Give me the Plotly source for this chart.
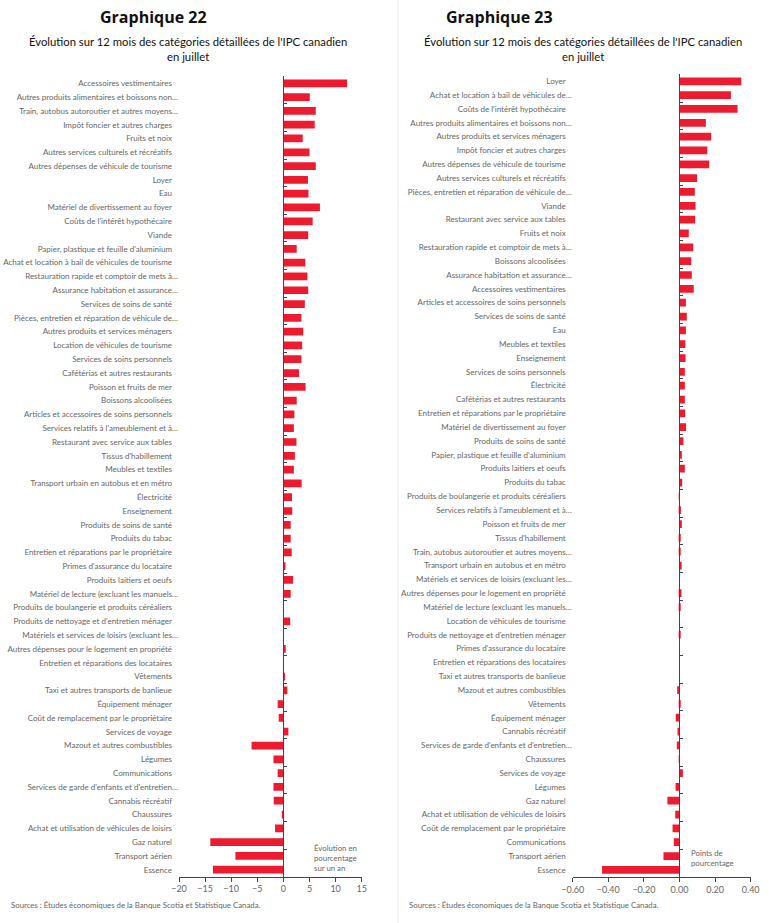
import plotly.graph_objects as go

# ---------------- Data: Graphique 22 (% y/y) ----------------
cats22 = [
    "Accessoires vestimentaires",
    "Autres produits alimentaires et boissons non…",
    "Train, autobus autoroutier et autres moyens…",
    "Impôt foncier et autres charges",
    "Fruits et noix",
    "Autres services culturels et récréatifs",
    "Autres dépenses de véhicule de tourisme",
    "Loyer",
    "Eau",
    "Matériel de divertissement au foyer",
    "Coûts de l'intérêt hypothécaire",
    "Viande",
    "Papier, plastique et feuille d'aluminium",
    "Achat et location à bail de véhicules de tourisme",
    "Restauration rapide et comptoir de mets à…",
    "Assurance habitation et assurance…",
    "Services de soins de santé",
    "Pièces, entretien et réparation de véhicule de…",
    "Autres produits et services ménagers",
    "Location de véhicules de tourisme",
    "Services de soins personnels",
    "Cafétérias et autres restaurants",
    "Poisson et fruits de mer",
    "Boissons alcoolisées",
    "Articles et accessoires de soins personnels",
    "Services relatifs à l'ameublement et à…",
    "Restaurant avec service aux tables",
    "Tissus d'habillement",
    "Meubles et textiles",
    "Transport urbain en autobus et en métro",
    "Électricité",
    "Enseignement",
    "Produits de soins de santé",
    "Produits du tabac",
    "Entretien et réparations par le propriétaire",
    "Primes d'assurance du locataire",
    "Produits laitiers et oeufs",
    "Matériel de lecture (excluant les manuels…",
    "Produits de boulangerie et produits céréaliers",
    "Produits de nettoyage et d'entretien ménager",
    "Matériels et services de loisirs (excluant les…",
    "Autres dépenses pour le logement en propriété",
    "Entretien et réparations des locataires",
    "Vêtements",
    "Taxi et autres transports de banlieue",
    "Équipement ménager",
    "Coût de remplacement par le propriétaire",
    "Services de voyage",
    "Mazout et autres combustibles",
    "Légumes",
    "Communications",
    "Services de garde d'enfants et d'entretien…",
    "Cannabis récréatif",
    "Chaussures",
    "Achat et utilisation de véhicules de loisirs",
    "Gaz naturel",
    "Transport aérien",
    "Essence",
]
vals22 = [
    12.2, 5.05, 6.2, 6.0, 3.7, 5.0, 6.2, 4.7, 4.8, 7.0,
    5.6, 4.75, 2.55, 4.2, 4.6, 4.75, 4.1, 3.45, 3.8, 3.6,
    3.45, 3.0, 4.25, 2.55, 2.1, 2.0, 2.5, 2.2, 2.0, 3.5,
    1.65, 1.7, 1.4, 1.4, 1.6, 0.4, 1.85, 1.4, 0.0, 1.3,
    0.0, 0.45, 0.0, 0.2, 0.75, -1.1, -0.9, 0.95, -6.1, -1.9,
    -1.1, -1.9, -1.85, -0.3, -1.6, -14.0, -9.2, -13.5,
]

# ---------------- Data: Graphique 23 (contribution, pp) ----------------
cats23 = [
    "Loyer",
    "Achat et location à bail de véhicules de…",
    "Coûts de l'intérêt hypothécaire",
    "Autres produits alimentaires et boissons non…",
    "Autres produits et services ménagers",
    "Impôt foncier et autres charges",
    "Autres dépenses de véhicule de tourisme",
    "Autres services culturels et récréatifs",
    "Pièces, entretien et réparation de véhicule de…",
    "Viande",
    "Restaurant avec service aux tables",
    "Fruits et noix",
    "Restauration rapide et comptoir de mets à…",
    "Boissons alcoolisées",
    "Assurance habitation et assurance…",
    "Accessoires vestimentaires",
    "Articles et accessoires de soins personnels",
    "Services de soins de santé",
    "Eau",
    "Meubles et textiles",
    "Enseignement",
    "Services de soins personnels",
    "Électricité",
    "Cafétérias et autres restaurants",
    "Entretien et réparations par le propriétaire",
    "Matériel de divertissement au foyer",
    "Produits de soins de santé",
    "Papier, plastique et feuille d'aluminium",
    "Produits laitiers et oeufs",
    "Produits du tabac",
    "Produits de boulangerie et produits céréaliers",
    "Services relatifs à l'ameublement et à…",
    "Poisson et fruits de mer",
    "Tissus d'habillement",
    "Train, autobus autoroutier et autres moyens…",
    "Transport urbain en autobus et en métro",
    "Matériels et services de loisirs (excluant les…",
    "Autres dépenses pour le logement en propriété",
    "Matériel de lecture (excluant les manuels…",
    "Location de véhicules de tourisme",
    "Produits de nettoyage et d'entretien ménager",
    "Primes d'assurance du locataire",
    "Entretien et réparations des locataires",
    "Taxi et autres transports de banlieue",
    "Mazout et autres combustibles",
    "Vêtements",
    "Équipement ménager",
    "Cannabis récréatif",
    "Services de garde d'enfants et d'entretien…",
    "Chaussures",
    "Services de voyage",
    "Légumes",
    "Gaz naturel",
    "Achat et utilisation de véhicules de loisirs",
    "Coût de remplacement par le propriétaire",
    "Communications",
    "Transport aérien",
    "Essence",
]
vals23 = [
    0.347, 0.289, 0.326, 0.148, 0.178, 0.156, 0.167, 0.099, 0.086, 0.090,
    0.088, 0.052, 0.077, 0.066, 0.069, 0.080, 0.036, 0.041, 0.036, 0.033,
    0.034, 0.030, 0.030, 0.030, 0.032, 0.037, 0.022, 0.013, 0.030, 0.015,
    0.001, 0.008, 0.013, 0.007, 0.006, 0.012, 0.0, 0.011, 0.003, 0.0,
    0.004, 0.0, 0.0, 0.0, -0.013, 0.006, -0.021, -0.011, -0.015, -0.001,
    0.019, -0.022, -0.068, -0.024, -0.039, -0.032, -0.090, -0.435,
]

x22_ticks = [-20, -15, -10, -5, 0, 5, 10, 15]
x23_ticks = [-0.60, -0.40, -0.20, 0.00, 0.20, 0.40]

RED = "#ED1B2F"
GREY = "#666666"
AXIS = "#444444"
FONT = "Lato"

W, H = 769, 923

def px_x(p):
    return p / W

def px_y(p):
    return 1 - p / H

def display(c):
    # labels that were not truncated keep a trailing gap as in the original
    return c if c.endswith("…") else c + "\u2003"

fig = go.Figure()

fig.add_trace(go.Bar(x=vals22, y=cats22, orientation="h", marker_color=RED,
                     width=0.56, xaxis="x", yaxis="y", showlegend=False, hoverinfo="x+y"))
fig.add_trace(go.Bar(x=vals23, y=cats23, orientation="h", marker_color=RED,
                     width=0.56, xaxis="x2", yaxis="y2", showlegend=False, hoverinfo="x+y"))
fig.add_trace(go.Scatter(x=[0] * len(cats22), y=cats22, mode="markers", marker=dict(opacity=0),
                         xaxis="x", yaxis="y3", showlegend=False, hoverinfo="skip"))
fig.add_trace(go.Scatter(x=[0] * len(cats23), y=cats23, mode="markers", marker=dict(opacity=0),
                         xaxis="x2", yaxis="y4", showlegend=False, hoverinfo="skip"))

n22, n23 = len(cats22), len(cats23)
ydom22 = [px_y(876.6), px_y(76.4)]
ydom23 = [px_y(876.8), px_y(74.4)]

tickfont = dict(family=FONT, size=8.0, color=GREY)
xtickfont = dict(family=FONT, size=9, color=GREY)

common_zero = dict(showticklabels=False, showgrid=False, showline=True, linecolor=AXIS,
                   linewidth=1, ticks="inside", tickson="boundaries", ticklen=3,
                   tickcolor=AXIS, automargin=False, zeroline=False)

fig.update_layout(
    template="none",
    width=W, height=H,
    margin=dict(l=0, r=0, t=0, b=0, pad=0),
    paper_bgcolor="white", plot_bgcolor="white",
    font=dict(family=FONT, color=GREY),
    xaxis=dict(domain=[px_x(179), px_x(361.7)], range=[-20, 15], tickvals=x22_ticks,
               ticks="outside", ticklen=4, tickcolor=AXIS, showline=True, linecolor=AXIS,
               linewidth=1, showgrid=False, zeroline=False, tickfont=xtickfont, anchor="y",
               automargin=False),
    yaxis=dict(domain=ydom22, type="category", categoryorder="array", categoryarray=cats22,
               tickmode="array", tickvals=cats22, ticktext=[display(c) for c in cats22],
               range=[n22 - 0.5, -0.5], showgrid=False, showline=False, ticks="",
               tickfont=tickfont, anchor="x", ticklabelstandoff=0, automargin=False,
               zeroline=False),
    yaxis3=dict(domain=ydom22, type="category", categoryorder="array", categoryarray=cats22,
                range=[n22 - 0.5, -0.5], overlaying="y", anchor="free",
                position=px_x(283.3), **common_zero),
    xaxis2=dict(domain=[px_x(572.7), px_x(750.7)], range=[-0.6, 0.4], tickvals=x23_ticks,
                tickformat=".2f", ticks="outside", ticklen=4, tickcolor=AXIS, showline=True,
                linecolor=AXIS, linewidth=1, showgrid=False, zeroline=False,
                tickfont=xtickfont, anchor="y2", automargin=False),
    yaxis2=dict(domain=ydom23, type="category", categoryorder="array", categoryarray=cats23,
                tickmode="array", tickvals=cats23, ticktext=[display(c) for c in cats23],
                range=[n23 - 0.5, -0.5], showgrid=False, showline=False, ticks="",
                tickfont=tickfont, anchor="x2", ticklabelstandoff=0, automargin=False,
                zeroline=False),
    yaxis4=dict(domain=ydom23, type="category", categoryorder="array", categoryarray=cats23,
                range=[n23 - 0.5, -0.5], overlaying="y2", anchor="free",
                position=px_x(679.3), **common_zero),
)

fig.add_shape(type="line", xref="paper", yref="paper", x0=px_x(398), x1=px_x(398),
              y0=0, y1=1, line=dict(color="#eeeeee", width=1))

ann = []
def txt(x, y, s, size, xanchor="left", color="#111", family=FONT, align="left"):
    ann.append(dict(x=px_x(x), y=px_y(y), xref="paper", yref="paper", text=s,
                    showarrow=False, xanchor=xanchor, yanchor="middle", align=align,
                    font=dict(family=family, size=size, color=color)))

TFONT = "Open Sans"
txt(153, 17, "<b>Graphique 22</b>", 16, xanchor="center", family=TFONT)
txt(499, 17, "<b>Graphique 23</b>", 16, xanchor="center", family=TFONT)
txt(188, 49, "Évolution sur 12 mois des catégories détaillées de l'IPC canadien<br>en juillet",
    11.3, xanchor="center", align="center")
txt(583, 49, "Évolution sur 12 mois des catégories détaillées de l'IPC canadien<br>en juillet",
    11.3, xanchor="center", align="center")

txt(312, 858, "Évolution en<br>pourcentage<br>sur un an", 7.8, color=GREY)
txt(689, 858, "Points de<br>pourcentage", 7.8, color=GREY)

txt(9, 905, "Sources : Études économiques de la Banque Scotia et Statistique Canada.", 7.8, color=GREY)
txt(407, 905, "Sources : Études économiques de la Banque Scotia et Statistique Canada.", 7.8, color=GREY)

fig.update_layout(annotations=ann)

fig.write_html("out.html")
